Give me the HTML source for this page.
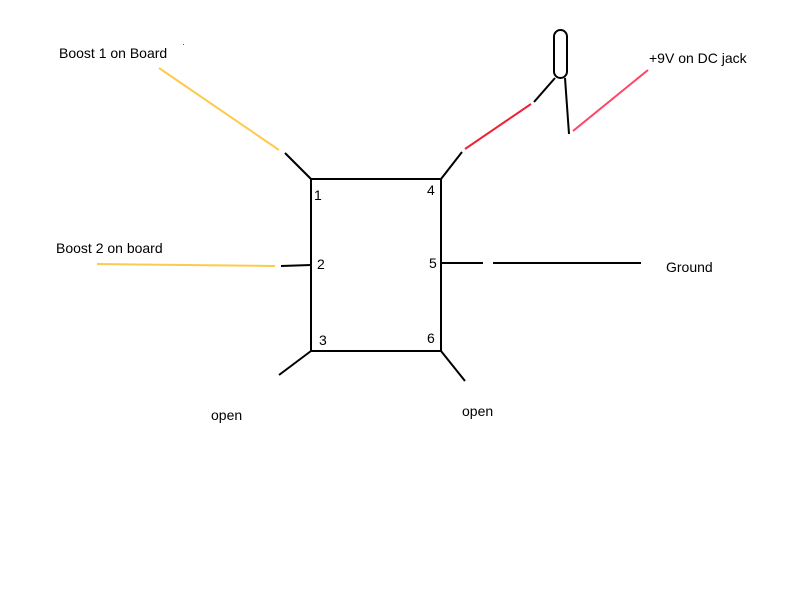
<!DOCTYPE html>
<html><head><meta charset="utf-8"><style>
html,body{margin:0;padding:0;background:#fff;width:800px;height:600px;overflow:hidden}
text{font-family:"Liberation Sans",sans-serif;font-size:14px;fill:#000}
</style></head><body>
<svg width="800" height="600" viewBox="0 0 800 600">
<g fill="none" stroke-width="2" stroke-linecap="butt">
<rect x="311" y="179" width="130" height="172" stroke="#000"/>
<line x1="159" y1="68" x2="279" y2="150" stroke="#ffc94d"/>
<line x1="285" y1="153" x2="311" y2="179" stroke="#000"/>
<line x1="97" y1="264" x2="275" y2="266" stroke="#ffc94d"/>
<line x1="281" y1="266" x2="311" y2="265" stroke="#000"/>
<line x1="311" y1="351" x2="279" y2="375" stroke="#000"/>
<line x1="441" y1="351" x2="465" y2="381" stroke="#000"/>
<line x1="441" y1="179" x2="462" y2="152" stroke="#000"/>
<line x1="465" y1="149" x2="531" y2="104" stroke="#ee2233"/>
<line x1="534" y1="102" x2="555" y2="78" stroke="#000"/>
<rect x="554" y="30" width="13" height="48" rx="6.5" stroke="#000"/>
<line x1="565" y1="78" x2="569" y2="134" stroke="#000"/>
<line x1="573" y1="131" x2="648" y2="70" stroke="#ff4466"/>
<line x1="441" y1="263" x2="483" y2="263" stroke="#000"/>
<line x1="493" y1="263" x2="641" y2="263" stroke="#000"/>
</g>
<rect x="183" y="44" width="1" height="1" fill="#555"/>
<text x="59" y="58">Boost 1 on Board</text>
<text x="56" y="253">Boost 2 on board</text>
<text x="649" y="63">+9V on DC jack</text>
<text x="666" y="272">Ground</text>
<text x="211" y="420">open</text>
<text x="462" y="416">open</text>
<text x="314" y="200">1</text>
<text x="317" y="269">2</text>
<text x="319" y="345">3</text>
<text x="427" y="195">4</text>
<text x="429" y="268">5</text>
<text x="427" y="343">6</text>
</svg>
</body></html>
